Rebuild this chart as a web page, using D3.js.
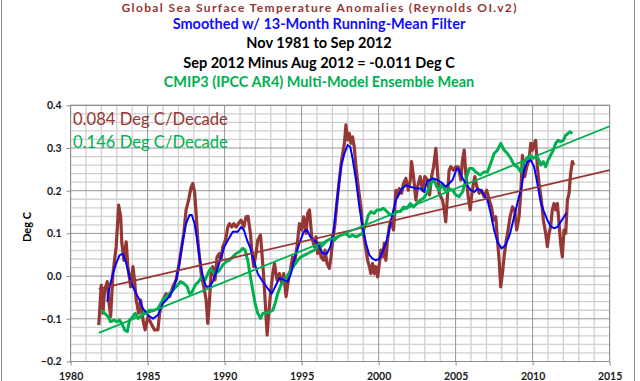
<!DOCTYPE html>
<html>
<head>
<meta charset="utf-8">
<script src="https://cdn.jsdelivr.net/npm/d3@7"></script>
<style>
  body { margin: 0; background: #fff; }
  text { font-family: Lato, "Open Sans", sans-serif; }
</style>
</head>
<body>
<div class="chart"></div>
<script>
var svgWidth = 640;
var svgHeight = 381;

var margin = { top: 105.3, right: 30.4, bottom: 19.5, left: 70.6 };
var width = svgWidth - margin.left - margin.right;
var height = svgHeight - margin.top - margin.bottom;

// tick labels
var xTicks = [1980, 1985, 1990, 1995, 2000, 2005, 2010, 2015];
var yTicks = [-0.2, -0.1, 0.0, 0.1, 0.2, 0.3, 0.4];

// titles and notes
var titleLines = [
  { text: "Global Sea Surface Temperature Anomalies  (Reynolds OI.v2)", color: "#953735" },
  { text: "Smoothed w/ 13-Month Running-Mean Filter", color: "#1010ff" },
  { text: "Nov 1981 to Sep 2012", color: "#000" },
  { text: "Sep 2012 Minus Aug 2012 = -0.011 Deg C", color: "#000" },
  { text: "CMIP3 (IPCC AR4) Multi-Model Ensemble Mean", color: "#00b050" }
];
var trendNotes = ["0.084 Deg C/Decade", "0.146 Deg C/Decade"];

// monthly SST anomalies [year, deg C]
var sstRaw = [[1981.83,-0.115],[1981.99,-0.021],[1982.10,-0.087],[1982.21,-0.033],[1982.38,-0.013],[1982.47,-0.056],[1982.60,-0.095],[1982.75,0.006],[1982.96,0.069],[1983.12,0.166],[1983.25,0.139],[1983.33,0.077],[1983.46,0.037],[1983.61,0.080],[1983.72,0.022],[1983.90,-0.025],[1984.05,0.022],[1984.16,-0.013],[1984.26,-0.056],[1984.42,-0.087],[1984.55,-0.056],[1984.70,-0.103],[1984.84,-0.126],[1985.02,-0.095],[1985.23,-0.111],[1985.45,-0.126],[1985.67,-0.126],[1985.78,-0.087],[1985.99,-0.056],[1986.21,-0.041],[1986.43,-0.048],[1986.64,-0.025],[1986.85,-0.009],[1987.01,0.022],[1987.18,0.061],[1987.35,0.100],[1987.50,0.155],[1987.66,0.178],[1987.83,0.209],[1987.94,0.217],[1988.05,0.197],[1988.15,0.147],[1988.26,0.084],[1988.37,0.045],[1988.48,0.006],[1988.65,-0.025],[1988.80,-0.056],[1988.91,-0.111],[1989.02,-0.056],[1989.12,0.006],[1989.23,0.022],[1989.38,-0.009],[1989.51,0.045],[1989.67,0.053],[1989.77,0.037],[1989.88,0.069],[1989.99,0.077],[1990.10,0.092],[1990.21,0.115],[1990.32,0.123],[1990.47,0.115],[1990.60,0.123],[1990.75,0.115],[1990.90,0.123],[1991.07,0.131],[1991.25,0.115],[1991.39,0.139],[1991.52,0.140],[1991.68,0.100],[1991.76,0.061],[1991.89,0.022],[1992.04,0.053],[1992.15,0.084],[1992.33,0.096],[1992.41,0.061],[1992.54,-0.002],[1992.63,-0.056],[1992.76,-0.138],[1992.85,-0.095],[1992.98,-0.041],[1993.13,0.006],[1993.24,0.030],[1993.40,-0.009],[1993.56,0.006],[1993.71,-0.017],[1993.84,0.006],[1993.99,-0.048],[1994.14,-0.009],[1994.27,0.014],[1994.42,0.045],[1994.57,0.037],[1994.70,0.069],[1994.86,0.123],[1995.01,0.108],[1995.14,0.139],[1995.29,0.100],[1995.40,0.147],[1995.51,0.155],[1995.66,0.092],[1995.83,0.069],[1995.93,0.092],[1996.04,0.053],[1996.15,0.077],[1996.26,0.045],[1996.43,0.037],[1996.52,0.061],[1996.65,0.030],[1996.80,0.018],[1996.91,0.045],[1997.02,0.084],[1997.17,0.123],[1997.28,0.166],[1997.41,0.213],[1997.60,0.272],[1997.78,0.311],[1997.88,0.354],[1997.99,0.319],[1998.10,0.334],[1998.20,0.311],[1998.31,0.326],[1998.42,0.303],[1998.53,0.256],[1998.68,0.209],[1998.85,0.162],[1998.96,0.115],[1999.11,0.077],[1999.29,0.037],[1999.40,0.022],[1999.50,0.006],[1999.61,0.030],[1999.72,0.006],[1999.82,0.022],[1999.94,-0.002],[2000.05,0.030],[2000.15,0.061],[2000.26,0.045],[2000.37,0.077],[2000.47,0.037],[2000.58,0.084],[2000.69,0.115],[2000.80,0.131],[2000.97,0.108],[2001.12,0.201],[2001.23,0.186],[2001.34,0.205],[2001.49,0.194],[2001.62,0.217],[2001.77,0.229],[2001.93,0.201],[2002.06,0.225],[2002.14,0.268],[2002.27,0.233],[2002.42,0.178],[2002.53,0.209],[2002.70,0.233],[2002.85,0.201],[2003.00,0.233],[2003.18,0.225],[2003.31,0.190],[2003.44,0.233],[2003.57,0.256],[2003.72,0.299],[2003.83,0.241],[2003.94,0.194],[2004.04,0.186],[2004.15,0.178],[2004.26,0.155],[2004.36,0.127],[2004.47,0.186],[2004.58,0.248],[2004.69,0.256],[2004.86,0.248],[2005.01,0.256],[2005.17,0.256],[2005.34,0.225],[2005.45,0.272],[2005.56,0.295],[2005.66,0.241],[2005.82,0.186],[2005.95,0.155],[2006.03,0.186],[2006.16,0.217],[2006.25,0.233],[2006.38,0.209],[2006.53,0.194],[2006.68,0.201],[2006.85,0.186],[2007.02,0.201],[2007.18,0.178],[2007.33,0.162],[2007.46,0.131],[2007.61,0.139],[2007.72,0.084],[2007.83,0.037],[2007.93,-0.025],[2008.04,0.006],[2008.15,0.045],[2008.26,0.077],[2008.37,0.100],[2008.54,0.139],[2008.69,0.162],[2008.84,0.155],[2008.97,0.108],[2009.12,0.139],[2009.23,0.194],[2009.34,0.283],[2009.49,0.233],[2009.62,0.256],[2009.77,0.272],[2009.88,0.311],[2009.99,0.295],[2010.10,0.311],[2010.20,0.318],[2010.31,0.256],[2010.42,0.217],[2010.57,0.178],[2010.70,0.131],[2010.85,0.100],[2010.96,0.069],[2011.07,0.100],[2011.17,0.115],[2011.28,0.155],[2011.39,0.170],[2011.50,0.155],[2011.61,0.170],[2011.72,0.123],[2011.82,0.077],[2011.93,0.045],[2012.04,0.108],[2012.15,0.100],[2012.26,0.178],[2012.37,0.194],[2012.47,0.241],[2012.58,0.268],[2012.67,0.260]];

// 13-month running mean (blue)
var sstSmooth = [[1982.38,-0.060],[1982.53,-0.025],[1982.75,0.006],[1982.96,0.030],[1983.18,0.049],[1983.40,0.052],[1983.61,0.030],[1983.83,-0.002],[1984.05,-0.025],[1984.26,-0.041],[1984.48,-0.056],[1984.70,-0.076],[1985.02,-0.091],[1985.35,-0.100],[1985.67,-0.091],[1985.99,-0.064],[1986.32,-0.052],[1986.64,-0.033],[1986.85,-0.009],[1987.07,0.030],[1987.29,0.084],[1987.50,0.123],[1987.72,0.143],[1987.87,0.143],[1988.05,0.123],[1988.22,0.084],[1988.37,0.045],[1988.59,-0.002],[1988.80,-0.025],[1989.02,-0.025],[1989.23,-0.013],[1989.51,0.014],[1989.77,0.045],[1989.99,0.069],[1990.21,0.084],[1990.53,0.104],[1990.86,0.104],[1991.07,0.115],[1991.25,0.108],[1991.46,0.084],[1991.65,0.068],[1991.83,0.045],[1992.15,0.006],[1992.48,-0.013],[1992.80,-0.029],[1993.06,-0.041],[1993.28,-0.025],[1993.56,-0.005],[1993.84,-0.009],[1994.10,-0.013],[1994.31,0.006],[1994.57,0.045],[1994.86,0.077],[1995.14,0.104],[1995.35,0.108],[1995.57,0.092],[1995.83,0.084],[1996.09,0.073],[1996.37,0.053],[1996.65,0.053],[1996.87,0.069],[1997.08,0.108],[1997.30,0.178],[1997.56,0.256],[1997.78,0.287],[1997.99,0.307],[1998.16,0.303],[1998.31,0.276],[1998.53,0.225],[1998.75,0.162],[1998.96,0.115],[1999.18,0.077],[1999.40,0.049],[1999.61,0.041],[1999.82,0.037],[2000.05,0.041],[2000.26,0.057],[2000.47,0.077],[2000.69,0.108],[2000.91,0.147],[2001.12,0.178],[2001.45,0.201],[2001.77,0.213],[2002.10,0.209],[2002.42,0.205],[2002.74,0.205],[2002.96,0.197],[2003.13,0.221],[2003.29,0.225],[2003.50,0.229],[2003.83,0.225],[2004.15,0.217],[2004.36,0.209],[2004.58,0.217],[2004.80,0.225],[2005.08,0.252],[2005.23,0.248],[2005.45,0.229],[2005.73,0.213],[2005.99,0.201],[2006.21,0.197],[2006.42,0.205],[2006.64,0.201],[2006.85,0.190],[2007.07,0.178],[2007.28,0.147],[2007.50,0.108],[2007.72,0.080],[2007.98,0.065],[2008.26,0.073],[2008.54,0.100],[2008.80,0.139],[2009.06,0.178],[2009.27,0.205],[2009.45,0.248],[2009.66,0.268],[2009.88,0.272],[2010.10,0.256],[2010.31,0.217],[2010.53,0.172],[2010.75,0.150],[2010.96,0.131],[2011.17,0.117],[2011.39,0.112],[2011.61,0.115],[2011.82,0.127],[2012.04,0.139],[2012.19,0.148]];

// CMIP3 multi-model mean (green)
var cmip3 = [[1981.99,-0.080],[1982.21,-0.087],[1982.43,-0.095],[1982.60,-0.107],[1982.81,-0.103],[1983.03,-0.107],[1983.18,-0.103],[1983.33,-0.111],[1983.51,-0.126],[1983.68,-0.130],[1983.83,-0.103],[1984.05,-0.095],[1984.20,-0.087],[1984.37,-0.099],[1984.55,-0.095],[1984.70,-0.087],[1984.91,-0.084],[1985.13,-0.080],[1985.41,-0.080],[1985.67,-0.076],[1985.99,-0.056],[1986.21,-0.048],[1986.53,-0.037],[1986.85,-0.025],[1987.14,-0.013],[1987.35,-0.017],[1987.57,-0.025],[1987.72,-0.041],[1987.89,-0.037],[1988.09,-0.021],[1988.31,-0.013],[1988.52,-0.002],[1988.74,-0.009],[1988.91,0.006],[1989.09,0.018],[1989.23,0.010],[1989.45,0.006],[1989.67,0.014],[1989.88,0.026],[1990.10,0.034],[1990.32,0.037],[1990.53,0.045],[1990.75,0.053],[1990.97,0.057],[1991.18,0.065],[1991.33,0.061],[1991.50,0.037],[1991.68,-0.002],[1991.83,-0.033],[1991.98,-0.064],[1992.15,-0.087],[1992.33,-0.099],[1992.48,-0.087],[1992.69,-0.087],[1992.91,-0.084],[1993.13,-0.080],[1993.28,-0.064],[1993.45,-0.041],[1993.66,-0.021],[1993.88,-0.009],[1994.10,0.002],[1994.31,0.014],[1994.53,0.026],[1994.75,0.037],[1994.96,0.045],[1995.18,0.049],[1995.40,0.053],[1995.61,0.057],[1995.83,0.061],[1996.04,0.069],[1996.26,0.069],[1996.48,0.077],[1996.69,0.084],[1996.91,0.088],[1997.13,0.084],[1997.34,0.092],[1997.56,0.096],[1997.88,0.100],[1998.10,0.092],[1998.31,0.096],[1998.53,0.092],[1998.75,0.096],[1998.96,0.100],[1999.18,0.123],[1999.33,0.143],[1999.50,0.151],[1999.72,0.147],[1999.89,0.155],[2000.11,0.155],[2000.32,0.159],[2000.54,0.151],[2000.76,0.143],[2000.97,0.143],[2001.19,0.151],[2001.41,0.151],[2001.62,0.162],[2001.84,0.159],[2002.06,0.170],[2002.27,0.162],[2002.48,0.170],[2002.70,0.178],[2002.92,0.182],[2003.13,0.194],[2003.39,0.217],[2003.61,0.225],[2003.78,0.209],[2003.94,0.201],[2004.09,0.213],[2004.26,0.205],[2004.43,0.197],[2004.58,0.205],[2004.80,0.201],[2005.01,0.190],[2005.23,0.186],[2005.45,0.197],[2005.66,0.225],[2005.88,0.252],[2006.10,0.252],[2006.31,0.244],[2006.60,0.237],[2006.85,0.244],[2007.07,0.244],[2007.28,0.264],[2007.50,0.287],[2007.72,0.295],[2007.93,0.311],[2008.15,0.295],[2008.37,0.287],[2008.58,0.276],[2008.80,0.260],[2009.02,0.256],[2009.23,0.244],[2009.40,0.264],[2009.62,0.276],[2009.84,0.283],[2010.05,0.276],[2010.20,0.279],[2010.36,0.276],[2010.53,0.260],[2010.70,0.268],[2010.85,0.256],[2011.01,0.272],[2011.17,0.283],[2011.35,0.295],[2011.50,0.311],[2011.66,0.318],[2011.82,0.315],[2012.00,0.318],[2012.15,0.330],[2012.30,0.334],[2012.43,0.338],[2012.58,0.334]];

// linear trend end points
var sstTrend = [[1981.83, -0.030], [2015, 0.248]];
var cmip3Trend = [[1981.83, -0.133], [2015, 0.351]];

var svg = d3.select(".chart")
  .append("svg")
  .attr("width", svgWidth)
  .attr("height", svgHeight);

svg.append("rect")
  .attr("width", svgWidth).attr("height", svgHeight)
  .attr("fill", "#fff");

// outer frame
svg.append("rect")
  .attr("x", 1.5).attr("y", -3)
  .attr("width", 633).attr("height", 395)
  .attr("fill", "none")
  .attr("stroke", "#8c8c8c");

// titles (first line squeezed in at the top edge)
var titles = svg.selectAll("text.title")
  .data(titleLines)
  .enter()
  .append("text")
  .classed("title", true)
  .attr("x", 319)
  .attr("y", (d, i) => i === 0 ? 11.9 : 9.7 + i * 19.3)
  .attr("text-anchor", "middle")
  .attr("font-size", (d, i) => i === 0 ? "12px" : "14.5px")
  .attr("font-weight", 700)
  .attr("fill", d => d.color)
  .text(d => d.text);

titles.filter((d, i) => i === 0)
  .attr("textLength", 395)
  .attr("lengthAdjust", "spacing");

var chartGroup = svg.append("g")
  .attr("transform", `translate(${margin.left}, ${margin.top})`);

var x = d3.scaleLinear().domain([1980, 2015]).range([0, width]);
var y = d3.scaleLinear().domain([-0.2, 0.4]).range([height, 0]);

// minor gridlines
var minorX = d3.range(1980, 2016, 1).filter(v => v % 5 !== 0);
var minorY = d3.range(-0.2, 0.401, 0.02).filter(v => Math.abs(v * 10 - Math.round(v * 10)) > 0.01);

chartGroup.selectAll("line.minor-x")
  .data(minorX).enter().append("line")
  .attr("x1", d => x(d)).attr("x2", d => x(d))
  .attr("y1", 0).attr("y2", height)
  .attr("stroke", "#d0d0d0").attr("stroke-width", 1.3);

chartGroup.selectAll("line.minor-y")
  .data(minorY).enter().append("line")
  .attr("x1", 0).attr("x2", width)
  .attr("y1", d => y(d)).attr("y2", d => y(d))
  .attr("stroke", "#d0d0d0").attr("stroke-width", 1.3);

// major gridlines
chartGroup.selectAll("line.major-x")
  .data(xTicks).enter().append("line")
  .attr("x1", d => x(d)).attr("x2", d => x(d))
  .attr("y1", 0).attr("y2", height)
  .attr("stroke", "#969696").attr("stroke-width", 1);

chartGroup.selectAll("line.major-y")
  .data(yTicks).enter().append("line")
  .attr("x1", 0).attr("x2", width)
  .attr("y1", d => y(d)).attr("y2", d => y(d))
  .attr("stroke", "#969696").attr("stroke-width", 1);

// plot border
chartGroup.append("rect")
  .attr("width", width).attr("height", height)
  .attr("fill", "none")
  .attr("stroke", "#8c8c8c");

// axes
var leftAxis = d3.axisLeft(y).tickValues(yTicks).tickFormat(d3.format(".1f")).tickSizeInner(4).tickSizeOuter(0).tickPadding(5);
var bottomAxis = d3.axisBottom(x).tickValues(xTicks).tickFormat(d3.format("d")).tickSizeInner(4).tickSizeOuter(0).tickPadding(7);

var gy = chartGroup.append("g").call(leftAxis);
var gx = chartGroup.append("g").attr("transform", `translate(0, ${height})`).call(bottomAxis);

[gx, gy].forEach(function(g) {
  g.select(".domain").remove();
  g.selectAll("line").attr("stroke", "#8c8c8c");
  g.selectAll("text")
    .attr("font-family", "Lato, sans-serif")
    .attr("font-size", "10.5px")
    .attr("font-weight", 700)
    .attr("fill", "#1a1a1a");
});

// y axis title
svg.append("text")
  .attr("transform", "translate(31, 227) rotate(-90)")
  .attr("text-anchor", "middle")
  .attr("font-size", "11px")
  .attr("font-weight", 700)
  .text("Deg C");

// series
var line = d3.line().x(d => x(d[0])).y(d => y(d[1]));

chartGroup.append("path").datum(sstRaw)
  .attr("d", line).attr("fill", "none")
  .attr("stroke", "#953735").attr("stroke-width", 3.2).attr("stroke-linejoin", "round");

chartGroup.append("path").datum(cmip3)
  .attr("d", line).attr("fill", "none")
  .attr("stroke", "#00b050").attr("stroke-width", 3).attr("stroke-linejoin", "round");

chartGroup.append("path").datum(sstSmooth)
  .attr("d", line).attr("fill", "none")
  .attr("stroke", "#0000ff").attr("stroke-width", 2).attr("stroke-linejoin", "round");

chartGroup.append("path").datum(sstTrend)
  .attr("d", line).attr("fill", "none")
  .attr("stroke", "#953735").attr("stroke-width", 1.8);

chartGroup.append("path").datum(cmip3Trend)
  .attr("d", line).attr("fill", "none")
  .attr("stroke", "#00b050").attr("stroke-width", 1.8);

// trend notes
svg.selectAll("text.note")
  .data(trendNotes)
  .enter()
  .append("text")
  .classed("note", true)
  .attr("x", 73)
  .attr("y", (d, i) => 125 + i * 23)
  .attr("font-size", "16.6px")
  .attr("fill", (d, i) => i === 0 ? "#953735" : "#00b050")
  .text(d => d);
</script>
</body>
</html>
